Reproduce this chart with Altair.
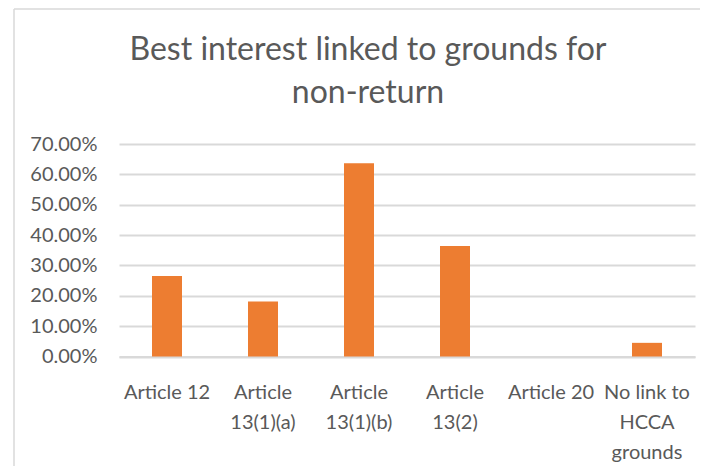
import altair as alt
import pandas as pd

categories = ["Article 12", "Article|13(1)(a)", "Article|13(1)(b)", "Article|13(2)",
              "Article 20", "No link to|HCCA|grounds"]
values = [0.265, 0.181, 0.637, 0.364, 0.0, 0.045]
y_ticks = [0, 0.1, 0.2, 0.3, 0.4, 0.5, 0.6, 0.7]
title_lines = ["Best interest linked to grounds for", "non-return"]

df = pd.DataFrame({"category": categories, "value": values})

FONT = "Lato"
GREY = "#595959"
LINE = "#d9d9d9"

bars = alt.Chart(df).mark_bar(color="#ED7D31").encode(
    x=alt.X(
        "category:N", sort=categories, title=None,
        scale=alt.Scale(paddingInner=0.6875, paddingOuter=0.34375),
        axis=alt.Axis(labelExpr="split(datum.value, '|')", labelAngle=0,
                      labelFontSize=20, labelColor=GREY, labelFont=FONT,
                      labelLineHeight=30, labelPadding=26, ticks=False,
                      domainColor=LINE, domainWidth=2, labelLimit=300),
    ),
    y=alt.Y(
        "value:Q", title=None,
        scale=alt.Scale(domain=[0, 0.7], nice=False),
        axis=alt.Axis(values=y_ticks, format=".2%", domain=False, ticks=False,
                      gridColor=LINE, gridWidth=2, labelPadding=22,
                      labelFontSize=20, labelColor=GREY, labelFont=FONT),
    ),
)

frame_df = pd.DataFrame({"a": [0]})
left_border = alt.Chart(frame_df).mark_rule(color=LINE, strokeWidth=1.5).encode(
    x=alt.value(-105), y=alt.value(-135), y2=alt.value(330)
)
top_border = alt.Chart(frame_df).mark_rule(color=LINE, strokeWidth=1.5).encode(
    x=alt.value(-105), x2=alt.value(600), y=alt.value(-135)
)

chart = alt.layer(left_border, top_border, bars).properties(
    width=576,
    height=212.5,
    padding={"left": 111, "top": 136, "right": 5, "bottom": 112},
    autosize=alt.AutoSizeParams(type="none"),
    title=alt.TitleParams(title_lines, fontSize=32, font=FONT, color=GREY,
                          fontWeight="normal", anchor="middle", dx=-39,
                          frame="group", offset=-102, lineHeight=43),
).configure_view(strokeWidth=0)

chart.save("out.html", embed_options={"renderer": "svg", "actions": False})
